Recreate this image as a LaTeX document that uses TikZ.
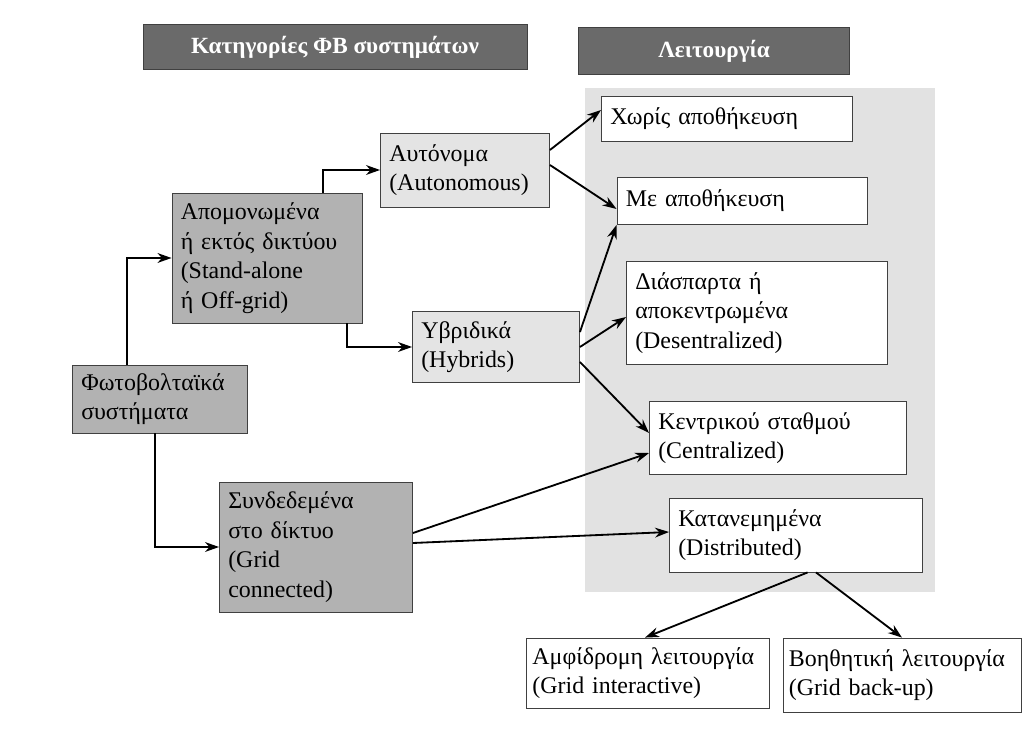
\documentclass[tikz,border=0pt]{standalone}
\usepackage{fontspec}
\setmainfont{Liberation Serif}
\usetikzlibrary{positioning, arrows.meta}

\definecolor{headgray}{HTML}{6A6A6A}
\definecolor{catgray}{HTML}{B2B2B2}
\definecolor{subgray}{HTML}{E4E4E4}
\definecolor{panelgray}{HTML}{E2E2E2}

\tikzset{
    box/.style={draw=black!75, line width=0.6pt, rectangle, align=left,
        inner xsep=0.22cm, inner ysep=0.1cm,
        font=\fontsize{17}{21}\selectfont},
    headbox/.style={box, fill=headgray, text=white, align=center,
        font=\fontsize{16.5}{20}\selectfont\bfseries},
    catbox/.style={box, fill=catgray},
    subbox/.style={box, fill=subgray},
    opbox/.style={box, fill=white},
    arr/.style={-{Stealth[length=10pt,width=7pt]}, line width=1.3pt, black}
}

\begin{document}
\begin{tikzpicture}[x=0.025cm, y=-0.025cm]
    \useasboundingbox (0,0) rectangle (1024,747);

    % background panel of the right column
    \fill[panelgray] (585,88) rectangle (935,592);

    % headers
    \node[headbox, minimum width=9.6cm, minimum height=1.125cm] (cathead) at (335,47)
        {Κατηγορίες ΦΒ συστημάτων};
    \node[headbox, minimum width=6.775cm, minimum height=1.175cm] (ophead) at (714,51)
        {Λειτουργία};

    % categories
    \node[catbox, text width=3.935cm, minimum height=1.7cm] (pv) at (160,399)
        {Φωτοβολταϊκά\\συστήματα};
    \node[catbox, text width=4.31cm, minimum height=3.25cm] (iso) at (267,258)
        {Απομονωμένα\\ή εκτός δικτύου\\(Stand-alone\\ή Off-grid)};
    \node[catbox, text width=4.385cm, minimum height=3.25cm] (grid) at (316,547)
        {Συνδεδεμένα\\στο δίκτυο\\(Grid\\connected)};
    \node[subbox, text width=3.785cm, minimum height=1.85cm] (aut) at (465,170)
        {Αυτόνομα\\(Autonomous)};
    \node[subbox, text width=3.735cm, minimum height=1.775cm] (hyb) at (496,347)
        {Υβριδικά\\(Hybrids)};

    % operation
    \node[opbox, text width=5.835cm, minimum height=1.125cm] (nost) at (727,119)
        {Χωρίς αποθήκευση};
    \node[opbox, text width=5.81cm, minimum height=1.175cm] (stor) at (742,201)
        {Με αποθήκευση};
    \node[opbox, text width=6.085cm, minimum height=2.575cm] (dec) at (757,313)
        {Διάσπαρτα ή\\αποκεντρωμένα\\(Desentralized)};
    \node[opbox, text width=5.985cm, minimum height=1.825cm] (cen) at (778,438)
        {Κεντρικού σταθμού\\(Centralized)};
    \node[opbox, text width=5.885cm, minimum height=1.85cm] (dist) at (796,535)
        {Κατανεμημένα\\(Distributed)};
    \node[opbox, inner xsep=0.15cm, text width=5.775cm, minimum height=1.75cm] (inter) at (648,673)
        {Αμφίδρομη λειτουργία\\(Grid interactive)};
    \node[opbox, inner xsep=0.15cm, text width=5.65cm, minimum height=1.85cm] (back) at (902,675)
        {Βοηθητική λειτουργία\\(Grid back-up)};

    % connectors
    \draw[arr] ([xshift=-0.825cm]pv.north) |- (iso.west);
    \draw[arr] ([xshift=-0.125cm]pv.south) |- (grid.west);
    \draw[arr] ([xshift=1.4cm]iso.north) |- (aut.west);
    \draw[arr] ([xshift=2cm]iso.south) |- (hyb.west);
    \draw[arr] ([yshift=0.5cm]aut.east) -- ([yshift=0.225cm]nost.west);
    \draw[arr] ([yshift=0.125cm]aut.east) -- ([yshift=-0.2cm]stor.west);
    \draw[arr] ([yshift=0.375cm]hyb.east) -- (stor.south west);
    \draw[arr] (hyb.east) -- ([yshift=-0.1cm]dec.west);
    \draw[arr] ([yshift=-0.375cm]hyb.east) -- ([yshift=0.125cm]cen.west);
    \draw[arr] ([yshift=0.35cm]grid.east) -- ([yshift=-0.375cm]cen.west);
    \draw[arr] ([yshift=0.1cm]grid.east) -- ([yshift=0.075cm]dist.west);
    \draw[arr] ([xshift=0.29cm]dist.south) -- ([xshift=-0.075cm]inter.north);
    \draw[arr] ([xshift=0.5cm]dist.south) -- (back.north);
\end{tikzpicture}
\end{document}
